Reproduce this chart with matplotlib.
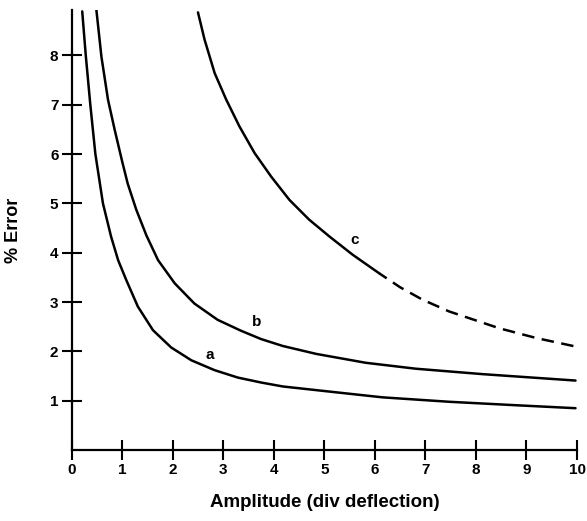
import numpy as np
import matplotlib
matplotlib.use("Agg")
import matplotlib.pyplot as plt

plt.rcParams.update({'font.family': 'Liberation Sans', 'font.weight': 'bold',
                     'axes.labelweight': 'bold'})

# curve a
a_x = [0.21, 0.28, 0.37, 0.47, 0.62, 0.78, 0.92, 1.08, 1.31, 1.61, 1.97,
       2.37, 2.83, 3.29, 3.75, 4.18, 5.16, 6.15, 7.47, 8.79, 9.97]
a_y = [8.89, 8.0, 7.0, 6.0, 5.0, 4.33, 3.85, 3.45, 2.91, 2.43, 2.08,
       1.82, 1.62, 1.47, 1.37, 1.29, 1.18, 1.07, 0.98, 0.91, 0.85]

# curve b
b_x = [0.49, 0.59, 0.72, 0.85, 1.0, 1.11, 1.28, 1.48, 1.71, 2.04, 2.43,
       2.89, 3.35, 3.75, 4.18, 4.84, 5.82, 6.81, 8.13, 9.97]
b_y = [8.92, 7.97, 7.1, 6.5, 5.85, 5.4, 4.87, 4.35, 3.85, 3.38, 2.97,
       2.64, 2.42, 2.25, 2.11, 1.95, 1.77, 1.65, 1.54, 1.41]

# curve c: measured (solid) part, then dashed extension
c_x = [2.5, 2.63, 2.83, 3.06, 3.32, 3.62, 3.95, 4.31, 4.7, 5.1, 5.56, 6.09]
c_y = [8.87, 8.32, 7.64, 7.1, 6.56, 6.02, 5.54, 5.07, 4.67, 4.33, 3.96, 3.58]
c_dash_x = [6.09, 6.5, 6.94, 7.47, 8.46, 9.2, 9.97]
c_dash_y = [3.58, 3.3, 3.05, 2.81, 2.47, 2.27, 2.1]

fig = plt.figure(figsize=(5.87, 5.21), dpi=100)
ax = fig.add_axes([0.122, 0.136, 0.861, 0.845])

ax.plot(a_x, a_y, color='black', lw=1.8, solid_capstyle='round')
ax.plot(b_x, b_y, color='black', lw=1.8, solid_capstyle='round')
ax.plot(c_x, c_y, color='black', lw=1.8, solid_capstyle='round')
ax.plot(c_dash_x, c_dash_y, color='black', lw=1.8, ls=(1.5, (5, 3)))

ax.text(2.73, 1.92, 'a', fontsize=11, ha='center', va='center')
ax.text(3.67, 2.6, 'b', fontsize=11, ha='center', va='center')
ax.text(5.59, 4.25, 'c', fontsize=11, ha='center', va='center')

ax.set_xlim(0, 10)
ax.set_ylim(0, 8.92)
ax.set_xticks(range(0, 11))
ax.set_yticks(range(1, 9))

for s in ['top', 'right']:
    ax.spines[s].set_visible(False)
for s in ['left', 'bottom']:
    ax.spines[s].set_linewidth(1.6)
ax.tick_params(direction='inout', length=15, width=1.5, labelsize=11)
ax.tick_params(axis='x', pad=2)
ax.tick_params(axis='y', pad=2)

ax.set_xlabel('Amplitude (div deflection)', fontsize=13.5, labelpad=12)
ax.set_ylabel('% Error', fontsize=13, labelpad=20)

fig.savefig('out.png', dpi=100)
